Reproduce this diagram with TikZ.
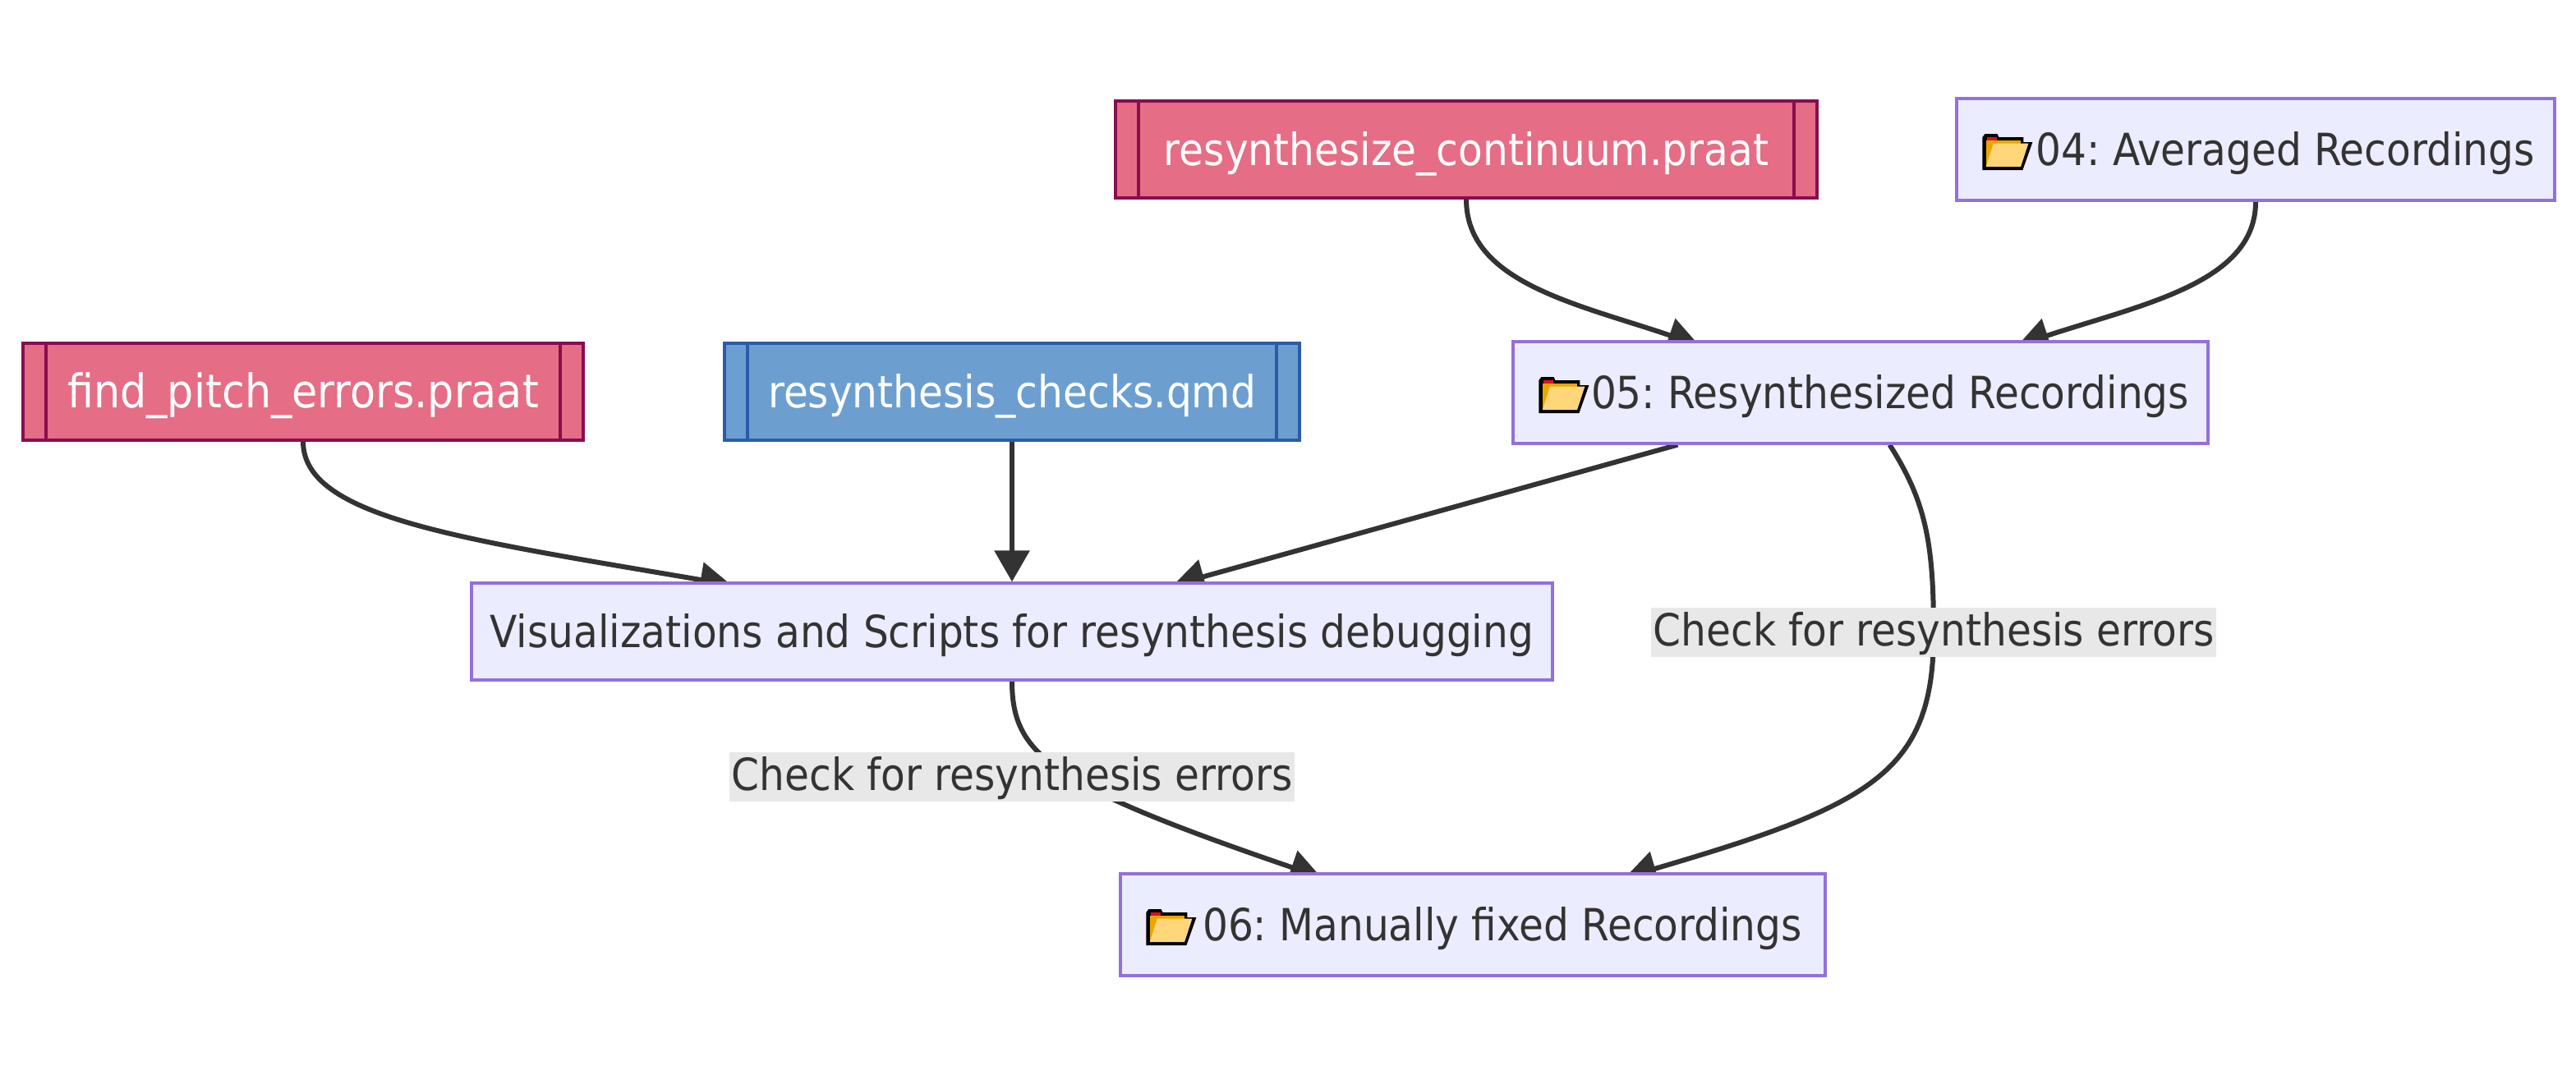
\documentclass[tikz,border=0pt]{standalone}
\usepackage{fontspec}
\setmainfont{DejaVu Sans Condensed}
\usetikzlibrary{arrows.meta,backgrounds}
\definecolor{inkgray}{HTML}{333333}
\definecolor{boxfill}{HTML}{ECECFF}
\definecolor{boxline}{HTML}{9370DB}
\definecolor{pinkfill}{HTML}{E56D85}
\definecolor{pinkline}{HTML}{880E4F}
\definecolor{bluefill}{HTML}{6C9FD0}
\definecolor{blueline}{HTML}{2A5CAA}
\definecolor{labelfill}{HTML}{E8E8E8}
\definecolor{folderback}{HTML}{EDA600}
\definecolor{folderfront}{HTML}{FFD67A}
\definecolor{foldertab}{HTML}{E0101A}
\frenchspacing
\tikzset{
  plainbox/.style={draw=boxline,fill=boxfill,line width=1.6pt,text=inkgray,inner sep=0pt,
    font=\fontsize{27}{30}\selectfont,text height=25pt,text depth=6pt},
  subroutine/.style={plainbox,text=white,minimum height=59pt,
    path picture={\draw[line width=1.6pt,draw=#1]
      ([xshift=14pt]path picture bounding box.north west) -- ([xshift=14pt]path picture bounding box.south west)
      ([xshift=-14pt]path picture bounding box.north east) -- ([xshift=-14pt]path picture bounding box.south east);}},
  edgelabel/.style={fill=labelfill,text=inkgray,inner sep=0pt,minimum width=344pt,minimum height=30pt,
    font=\fontsize{27}{30}\selectfont,text height=22.5pt,text depth=6pt},
  flow/.style={draw=inkgray,line width=3pt,-{Triangle[length=19pt,width=21pt]}},
  folder/.pic={
    \fill[black] (0,22) -- (0,2) -- (1.5,0) -- (9,0) -- (10,2) -- (25,2) -- (25,5) -- (30.5,5) -- (24.5,22) -- cycle;
    \fill[folderback] (2.2,20) -- (2.2,4.2) -- (23.3,4.2) -- (23.3,20) -- cycle;
    \fill[foldertab] (3,2) -- (8.8,2) -- (8.8,3.8) -- (3,3.8) -- cycle;
    \fill[folderfront] (6.7,5.8) -- (28,5.8) -- (23.3,20) -- (2.2,20) -- cycle;
  }
}
\begin{document}
\begin{tikzpicture}[x=1pt,y=1pt,yscale=-1,xscale=1]
\useasboundingbox (0,0) rectangle (1568,654);

% Script nodes
\draw (892.5,91) node [subroutine=pinkline,draw=pinkline,fill=pinkfill,minimum width=427pt] (resynthPraat) {resynthesize\_continuum.praat};
\draw (184.5,238.5) node [subroutine=pinkline,draw=pinkline,fill=pinkfill,minimum width=341pt,font=\fontsize{28.2}{30}\selectfont] (findPraat) {find\_pitch\_errors.praat};
\draw (616,238.5) node [subroutine=blueline,draw=blueline,fill=bluefill,minimum width=350pt] (checksQmd) {resynthesis\_checks.qmd};

% Plain nodes
\draw (1373,91) node [plainbox,minimum width=364pt,minimum height=62pt] (avgRec) {\hspace*{36pt}04: Averaged Recordings};
\draw (1132.5,239) node [plainbox,minimum width=423pt,minimum height=62pt] (resynthRec) {\hspace*{36pt}05: Resynthesized Recordings};
\draw (616,384.5) node [plainbox,minimum width=658pt,minimum height=59pt] (visScripts) {Visualizations and Scripts for resynthesis debugging};
\draw (896.5,563) node [plainbox,minimum width=429pt,minimum height=62pt] (fixedRec) {\hspace*{36pt}06: Manually fixed Recordings};

% Folder icons
\path ([shift={(16.5,-9.5)}]avgRec.west) pic [yscale=-1] {folder};
\path ([shift={(16.5,-9.5)}]resynthRec.west) pic [yscale=-1] {folder};
\path ([shift={(16.5,-9.5)}]fixedRec.west) pic [yscale=-1] {folder};

% Connectors
\begin{scope}[on background layer]
\draw [flow] (resynthPraat.south) .. controls (892.5,172) and (960,185) .. ([shift={(114,3)}]resynthRec.north west);
\draw [flow] (avgRec.south) .. controls (1373,172) and (1305,185) .. ([shift={(308,3)}]resynthRec.north west);
\draw [flow] (findPraat.south) .. controls (184.5,315) and (280,328) .. ([shift={(159,2)}]visScripts.north west);
\draw [flow] (checksQmd.south) -- (visScripts.north);
\draw [flow] ([xshift=101pt]resynthRec.south west) -- ([shift={(428,2)}]visScripts.north west);
\draw [flow] ([xshift=230pt]resynthRec.south west) .. controls (1172,305) and (1177,330) .. (1177,385)
  .. controls (1177,470) and (1140,490) .. ([shift={(308,3)}]fixedRec.north west);
\draw [flow] (visScripts.south) .. controls (616,460) and (640,478) .. ([shift={(123,3)}]fixedRec.north west);
\end{scope}

% Text Node
\draw (616,473) node [edgelabel] (labelLeft) {Check for resynthesis errors};
% Text Node
\draw (1177,385) node [edgelabel] (labelRight) {Check for resynthesis errors};
\end{tikzpicture}
\end{document}
